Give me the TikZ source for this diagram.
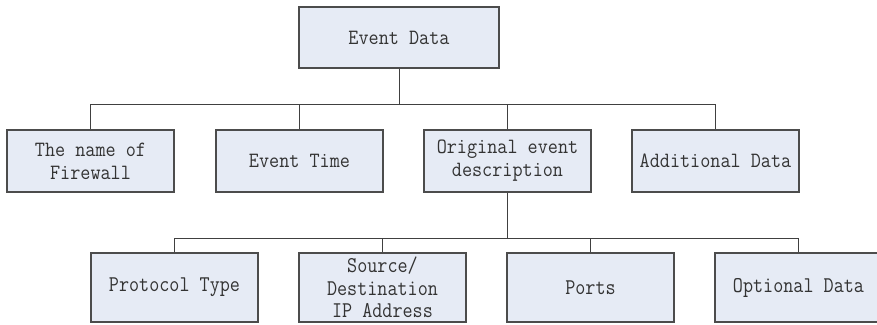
\documentclass[tikz,border=0pt]{standalone}
\usepackage{fontspec}
\newfontfamily\fontA[FakeStretch=0.9]{Latin Modern Mono}
\newfontfamily\fontB[FakeStretch=0.87]{Latin Modern Mono}
\begin{document}
\begin{tikzpicture}[x=1pt,y=-1pt,
  box/.style={draw=black!70,line width=1.1pt,fill=boxfill,minimum width=167pt,align=center,inner sep=0pt,
    text=black!80,font=\fontA\fontsize{21.8}{23}\selectfont},
  lvl2/.style={box,minimum height=62pt},
  lvl3/.style={box,minimum height=69pt,font=\fontB\fontsize{22.5}{22.5}\selectfont},
  conn/.style={draw=black!75,line width=0.9pt}]
\definecolor{boxfill}{HTML}{E6EBF5}
\useasboundingbox (0,0) rectangle (877,324);
\clip (0,0) rectangle (877,324);
\fill[white] (0,0) rectangle (877,324);
\node[box,minimum width=200pt,minimum height=61pt] (top) at (399,37.5) {Event Data};
\node[lvl2] (b1) at (90.5,161) {The name of\\Firewall};
\node[lvl2] (b2) at (299.5,161) {Event Time};
\node[lvl2] (b3) at (507.5,161) {Original event\\description};
\node[lvl2] (b4) at (715.5,161) {Additional Data};
\node[lvl3] (c1) at (174.5,287.5) {Protocol Type};
\node[lvl3] (c2) at (382.5,287.5) {Source/\\Destination\\IP Address};
\node[lvl3] (c3) at (590.5,287.5) {Ports};
\node[lvl3] (c4) at (798.5,287.5) {Optional Data};
\coordinate (busA) at (0,104);
\coordinate (busB) at (0,238);
\draw[conn] (top.south) -- (top.south |- busA);
\draw[conn] (b1.north) -- (b1.north |- busA) -- (b4.north |- busA) -- (b4.north);
\draw[conn] (b2.north) -- (b2.north |- busA);
\draw[conn] (b3.north) -- (b3.north |- busA);
\draw[conn] (b3.south) -- (b3.south |- busB);
\draw[conn] (c1.north) -- (c1.north |- busB) -- (c4.north |- busB) -- (c4.north);
\draw[conn] (c2.north) -- (c2.north |- busB);
\draw[conn] (c3.north) -- (c3.north |- busB);
\end{tikzpicture}
\end{document}
